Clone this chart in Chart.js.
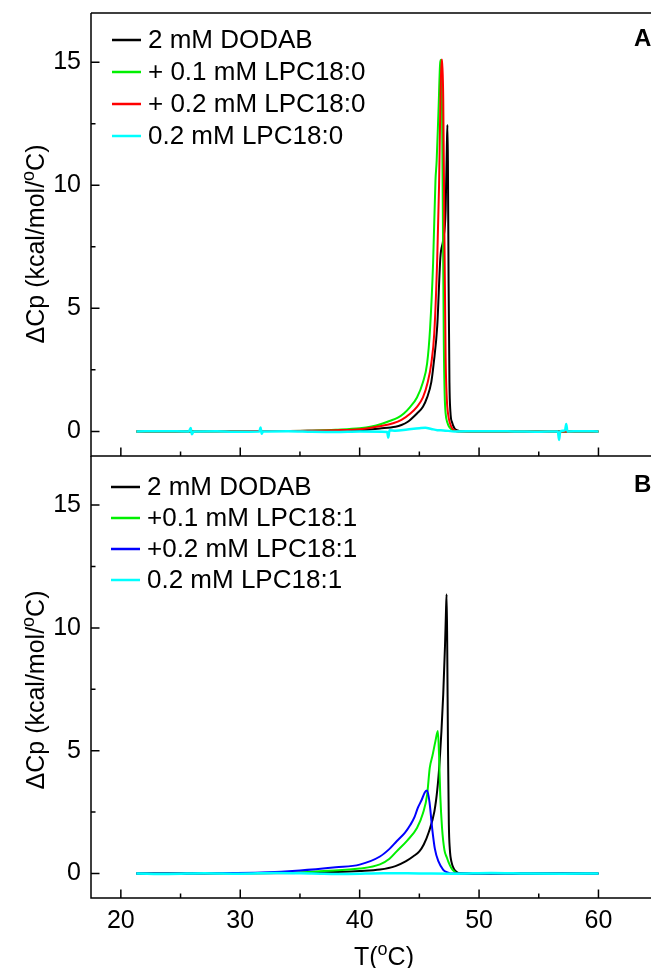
<!DOCTYPE html>
<html>
<head>
<meta charset="utf-8">
<script src="https://cdn.jsdelivr.net/npm/chart.js@4.4.1/dist/chart.umd.min.js"></script>
<style>
  body { margin: 0; background: #fff; }
  #wrap { position: relative; width: 651px; height: 968px; overflow: hidden; }
  .panel { position: absolute; left: 0; width: 651px; }
  #pa { top: 0; height: 458px; }
  #pb { top: 456px; height: 512px; }
</style>
</head>
<body>
<div id="wrap">
  <div class="panel" id="pa"><canvas id="chartA"></canvas></div>
  <div class="panel" id="pb"><canvas id="chartB"></canvas></div>
</div>
<script>
// ---- tick values ----
const xMajor = [20, 30, 40, 50, 60];
const xMinor = [25, 35, 45, 55];
const yMajor = [0, 5, 10, 15];
const yMinor = [2.5, 7.5, 12.5];

// ---- panel A : DODAB + LPC18:0 ----
const labelsA = ['2 mM DODAB', '+ 0.1 mM LPC18:0', '+ 0.2 mM LPC18:0', '0.2 mM LPC18:0'];

const tBlackA  = [21.3, 25, 30, 35, 38, 40, 41.7, 43, 43.5, 44, 44.8, 45.3, 45.65, 46.0, 46.2, 46.5, 46.76, 47.0, 47.2, 47.3, 47.35, 47.39, 47.45, 47.52, 47.6, 47.75, 47.95, 48.2, 48.5, 50, 55, 60];
const cpBlackA = [0, 0, 0.01, 0.02, 0.03, 0.05, 0.12, 0.19, 0.26, 0.38, 0.73, 1.0, 1.38, 2.0, 2.76, 4.3, 7.07, 7.8, 9.0, 11.5, 12.45, 11.0, 6.0, 2.0, 0.8, 0.35, 0.12, 0.04, 0.01, 0, 0, 0];

const tGreenA  = [21.3, 25, 30, 34, 36.5, 38, 40, 41, 41.8, 42.5, 43.2, 43.7, 44.2, 44.8, 45.3, 45.65, 45.9, 46.15, 46.35, 46.45, 46.6, 46.75, 46.83, 46.9, 46.98, 47.05, 47.12, 47.2, 47.35, 47.55, 47.8, 48.1, 48.5, 50, 55, 60];
const cpGreenA = [0, 0, 0.01, 0.02, 0.04, 0.07, 0.13, 0.2, 0.3, 0.42, 0.56, 0.73, 0.98, 1.38, 2.0, 2.76, 4.2, 6.83, 10.2, 11.0, 13.0, 15.0, 15.1, 13.0, 8.0, 3.5, 1.5, 0.73, 0.35, 0.15, 0.05, 0.01, 0, 0, 0, 0];

const tRedA  = [21.3, 25, 30, 34, 36, 38, 40, 41.8, 42.8, 43.5, 44.25, 44.8, 45.3, 45.7, 46.0, 46.25, 46.5, 46.65, 46.75, 46.85, 46.92, 47.0, 47.1, 47.2, 47.3, 47.4, 47.55, 47.75, 48.0, 48.3, 50, 55, 60];
const cpRedA = [0, 0, 0.01, 0.02, 0.03, 0.05, 0.09, 0.22, 0.33, 0.47, 0.73, 1.0, 1.38, 2.0, 2.76, 4.0, 7.07, 10.0, 13.0, 15.1, 15.1, 13.5, 8.0, 3.0, 1.3, 0.73, 0.35, 0.12, 0.03, 0, 0, 0, 0];

const tCyanA  = [21.3, 23.5, 25.7, 25.85, 25.95, 26.1, 28, 29.5, 31.6, 31.7, 31.8, 31.9, 34, 36, 38, 40, 42.3, 42.4, 42.5, 43, 44, 45, 45.5, 46, 46.5, 47, 48, 50, 53, 55, 56.6, 56.7, 56.8, 57.2, 57.3, 57.4, 58.5, 60];
const cpCyanA = [0, 0.01, 0, 0.14, -0.12, 0, 0.01, -0.01, 0, 0.16, -0.1, 0, 0.01, -0.01, -0.02, 0, -0.02, -0.25, 0.05, 0.03, 0.08, 0.13, 0.15, 0.1, 0.05, 0.04, 0, 0.01, 0, -0.01, 0, -0.35, 0, 0.04, 0.3, 0, 0.01, 0];

// ---- panel B : DODAB + LPC18:1 ----
const labelsB = ['2 mM DODAB', '+0.1 mM LPC18:1', '+0.2 mM LPC18:1', '0.2 mM LPC18:1'];

const tBlackB  = [21.3, 25, 30, 35, 36.5, 38, 40, 41.7, 43, 43.85, 44.5, 45.0, 45.37, 45.8, 46.26, 46.5, 46.7, 46.85, 47.0, 47.15, 47.22, 47.28, 47.33, 47.4, 47.47, 47.55, 47.7, 47.9, 48.1, 48.4, 50, 55, 60];
const cpBlackB = [0, 0, 0.01, 0.02, 0.04, 0.06, 0.1, 0.16, 0.3, 0.49, 0.7, 0.9, 1.18, 1.7, 2.53, 3.4, 4.57, 5.8, 7.3, 9.3, 10.5, 11.37, 9.5, 5.0, 2.0, 1.0, 0.45, 0.18, 0.07, 0.01, 0, 0, 0];

const tGreenB  = [21.3, 25, 30, 33, 34.7, 37, 40, 41.7, 42.5, 43.1, 44.0, 44.8, 45.3, 45.65, 45.87, 46.1, 46.35, 46.55, 46.65, 46.75, 46.9, 47.1, 47.3, 47.45, 47.7, 47.95, 48.2, 50, 55, 60];
const cpGreenB = [0, 0, 0.01, 0.02, 0.04, 0.1, 0.2, 0.37, 0.6, 0.9, 1.35, 1.85, 2.45, 3.2, 4.3, 4.8, 5.4, 5.8, 4.8, 3.2, 1.85, 0.95, 0.65, 0.45, 0.2, 0.07, 0, 0, 0, 0];

const tBlueB  = [21.3, 25, 28, 31.8, 35, 38, 40, 41.7, 42.5, 43.1, 43.8, 44.25, 44.6, 44.87, 45.2, 45.45, 45.65, 45.85, 46.07, 46.3, 46.6, 47.0, 47.3, 47.6, 50, 55, 60];
const cpBlueB = [0, 0, 0.01, 0.04, 0.12, 0.25, 0.36, 0.69, 1.0, 1.31, 1.66, 1.98, 2.3, 2.67, 3.0, 3.3, 3.38, 2.9, 1.85, 1.0, 0.49, 0.15, 0.05, 0, 0, 0, 0];

const tCyanB  = [21.3, 24, 27, 30, 33, 36, 39, 42, 45, 48, 51, 54, 57, 60];
const cpCyanB = [0, -0.02, 0.01, -0.01, 0.02, 0, -0.02, 0.01, 0, -0.01, 0.02, 0, -0.01, 0];

const FONT = '"Liberation Sans", Arial, sans-serif';

const pts = (t, cp) => t.map((v, i) => ({ x: v, y: cp[i] }));
const line = (label, color, t, cp, order, w) => ({
  label, data: pts(t, cp), borderColor: color, backgroundColor: color,
  borderWidth: w || 2, pointRadius: 0, cubicInterpolationMode: 'monotone', order
});

// text with a raised small "o"
function supText(ctx, parts, x, y, size) {
  const fonts = parts.map(p => (p[1] ? size * 0.72 : size) + 'px ' + FONT);
  let w = 0;
  parts.forEach((p, i) => { ctx.font = fonts[i]; w += ctx.measureText(p[0]).width; });
  let cx = x - w / 2;
  ctx.textAlign = 'left';
  ctx.textBaseline = 'alphabetic';
  parts.forEach((p, i) => {
    ctx.font = fonts[i];
    ctx.fillText(p[0], cx, p[1] ? y - size * 0.42 : y);
    cx += ctx.measureText(p[0]).width;
  });
}

const framePlugin = {
  id: 'frame',
  afterDraw(chart, args, o) {
    const { ctx, chartArea: a, scales: { x, y } } = chart;
    ctx.save();
    ctx.strokeStyle = '#000';
    ctx.lineWidth = 1.5;
    ctx.beginPath();
    if (o.top) { ctx.moveTo(a.left, a.top); ctx.lineTo(a.right, a.top); }
    ctx.moveTo(a.left, a.top); ctx.lineTo(a.left, a.bottom); ctx.lineTo(a.right, a.bottom);
    xMajor.forEach(v => { const p = x.getPixelForValue(v); ctx.moveTo(p, a.bottom); ctx.lineTo(p, a.bottom - 8.5); });
    xMinor.forEach(v => { const p = x.getPixelForValue(v); ctx.moveTo(p, a.bottom); ctx.lineTo(p, a.bottom - 4.5); });
    yMajor.forEach(v => { const p = y.getPixelForValue(v); ctx.moveTo(a.left, p); ctx.lineTo(a.left + 8.5, p); });
    yMinor.forEach(v => { const p = y.getPixelForValue(v); ctx.moveTo(a.left, p); ctx.lineTo(a.left + 4.5, p); });
    ctx.stroke();

    // legend
    ctx.font = '26px ' + FONT;
    ctx.textAlign = 'left';
    ctx.textBaseline = 'middle';
    chart.data.datasets.forEach((ds, i) => {
      const ly = o.legendY + i * o.legendDy;
      ctx.strokeStyle = ds.borderColor;
      ctx.lineWidth = 2.5;
      ctx.beginPath(); ctx.moveTo(o.legendX, ly); ctx.lineTo(o.legendX + 29, ly); ctx.stroke();
      ctx.fillStyle = '#000';
      ctx.fillText(ds.label, o.legendX + 36, ly + 1);
    });

    // panel letter
    ctx.font = 'bold 24px ' + FONT;
    ctx.textBaseline = 'alphabetic';
    ctx.fillText(o.letter, 634, o.letterY);

    // y title
    ctx.save();
    ctx.translate(44, o.titleY);
    ctx.rotate(-Math.PI / 2);
    supText(ctx, [['\u0394Cp (kcal/mol/', 0], ['o', 1], ['C)', 0]], 0, 0, 25);
    ctx.restore();

    if (o.xTitle) supText(ctx, [['T(', 0], ['o', 1], ['C)', 0]], 384, o.xTitle, 25);
    ctx.restore();
  }
};

// keep the plot boxes where the figure has them
const noPad = s => { s.paddingTop = 0; s.paddingBottom = 0; s.paddingLeft = 0; s.paddingRight = 0; };

function yScale() {
  return {
    type: 'linear', min: -1, max: 17,
    afterFit: s => { s.width = 91; noPad(s); },
    afterBuildTicks: s => { s.ticks = yMajor.map(v => ({ value: v })); },
    grid: { display: false, drawTicks: false },
    border: { display: false },
    ticks: { color: '#000', padding: 10, font: { family: FONT, size: 25 } }
  };
}

function makeChart(id, datasets, xOpts, pad, frame) {
  return new Chart(document.getElementById(id), {
    type: 'line',
    data: { datasets },
    options: {
      responsive: true, maintainAspectRatio: false, animation: false,
      layout: { padding: pad },
      plugins: { legend: { display: false }, tooltip: { enabled: false }, frame },
      scales: { x: xOpts, y: yScale() }
    },
    plugins: [framePlugin]
  });
}

makeChart('chartA', [
  line(labelsA[0], '#000000', tBlackA, cpBlackA, 3),
  line(labelsA[1], '#00f000', tGreenA, cpGreenA, 2),
  line(labelsA[2], '#ff0000', tRedA, cpRedA, 1),
  line(labelsA[3], '#00ffff', tCyanA, cpCyanA, 0, 2.5)
], { type: 'linear', min: 17.5, max: 64.4, display: false, afterFit: noPad },
  { top: 13, right: 0, bottom: 2, left: 0 },
  { top: true, legendX: 112, legendY: 40, legendDy: 32, letter: 'A', letterY: 46, titleY: 244 });

makeChart('chartB', [
  line(labelsB[0], '#000000', tBlackB, cpBlackB, 3),
  line(labelsB[1], '#00f000', tGreenB, cpGreenB, 2),
  line(labelsB[2], '#0000ff', tBlueB, cpBlueB, 1),
  line(labelsB[3], '#00ffff', tCyanB, cpCyanB, 0, 2.5)
], {
  type: 'linear', min: 17.5, max: 64.4,
  afterFit: s => { s.height = 70; noPad(s); },
  afterBuildTicks: s => { s.ticks = xMajor.map(v => ({ value: v })); },
  grid: { display: false, drawTicks: false },
  border: { display: false },
  ticks: { color: '#000', padding: 8, maxRotation: 0, font: { family: FONT, size: 25 } }
}, { top: 0, right: 0, bottom: 0, left: 0 },
  { top: false, legendX: 111, legendY: 31, legendDy: 31, letter: 'B', letterY: 36, titleY: 234, xTitle: 509 });
</script>
</body>
</html>
